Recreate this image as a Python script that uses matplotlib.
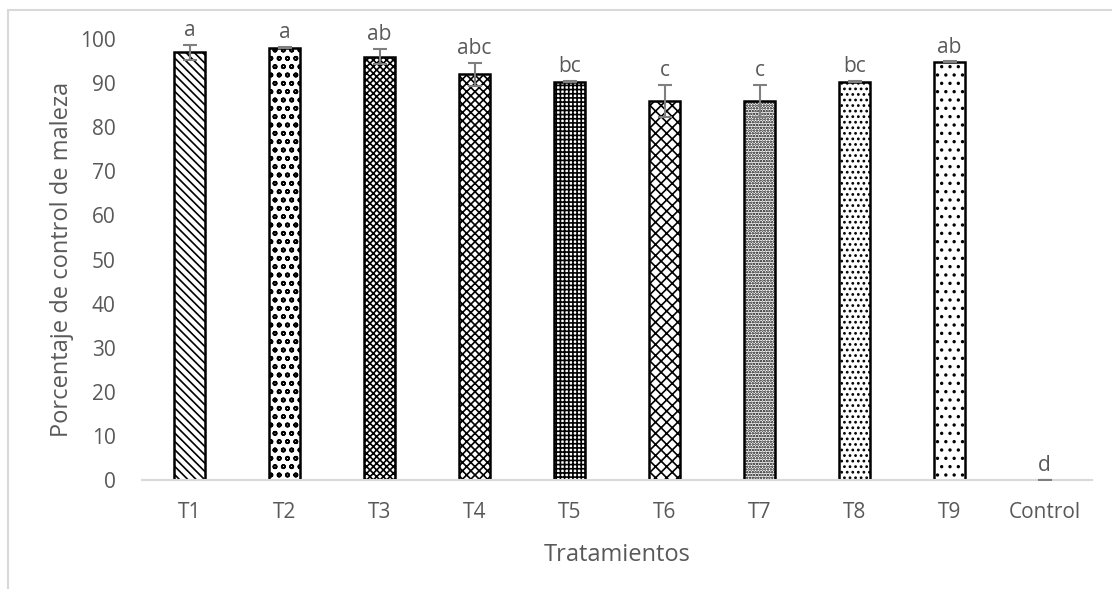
import matplotlib
matplotlib.use("Agg")
import matplotlib.pyplot as plt
from matplotlib.patches import Rectangle

categories = ["T1", "T2", "T3", "T4", "T5", "T6", "T7", "T8", "T9", "Control"]
values = [97, 98, 96, 92, 90.3, 86, 86, 90.3, 94.8, 0]
errors = [1.7, 0.1, 1.7, 2.6, 0.1, 3.6, 3.6, 0.1, 0.1, 0.1]
letters = ["a", "a", "ab", "abc", "bc", "c", "c", "bc", "ab", "d"]
hatches = ["\\\\\\\\", "oo", "xxxxx", "xxxx", "++++", "xxx", "......", "...", "..", ""]

plt.rcParams["font.family"] = ["Open Sans", "DejaVu Sans"]
plt.rcParams["hatch.linewidth"] = 1.2

fig = plt.figure(figsize=(11.12, 5.89), dpi=100)
fig.patches.append(Rectangle((8/1112, -0.1), 1.2, 1 - 10/589 + 0.1, transform=fig.transFigure,
                             fill=False, edgecolor="#d9d9d9", linewidth=1.5))
ax = fig.add_axes([142/1112, 1 - 480/589, 950/1112, 441/589])

x = list(range(len(categories)))
bars = ax.bar(x, values, width=0.32, color="white", edgecolor="black", linewidth=1.8, zorder=2)
for b, h in zip(bars, hatches):
    b.set_hatch(h)
ax.errorbar(x, values, yerr=errors, fmt="none", ecolor="#7f7f7f", elinewidth=1.5, capsize=5,
            capthick=1.5, zorder=3)
for xi, v, e, lt in zip(x, values, errors, letters):
    ax.text(xi, v + e + 0.9, lt, ha="center", va="bottom", fontsize=15, color="#595959", clip_on=False)

ax.set_xlim(-0.5, len(categories) - 0.5)
ax.set_ylim(0, 100)
ax.set_yticks(range(0, 101, 10))
ax.set_xticks(x)
ax.set_xticklabels(categories)
ax.tick_params(axis="both", length=0, labelsize=15, labelcolor="#595959")
ax.tick_params(axis="y", pad=19)
ax.tick_params(axis="x", pad=16)
for s in ["top", "right", "left"]:
    ax.spines[s].set_visible(False)
ax.spines["bottom"].set_color("#d9d9d9")
ax.spines["bottom"].set_linewidth(1.5)
ax.set_xlabel("Tratamientos", fontsize=17, color="#595959", labelpad=14)
ax.set_ylabel("Porcentaje de control de maleza", fontsize=17, color="#595959")
ax.yaxis.set_label_coords(-0.072, 0.5)

fig.savefig("out.png", dpi=100)
